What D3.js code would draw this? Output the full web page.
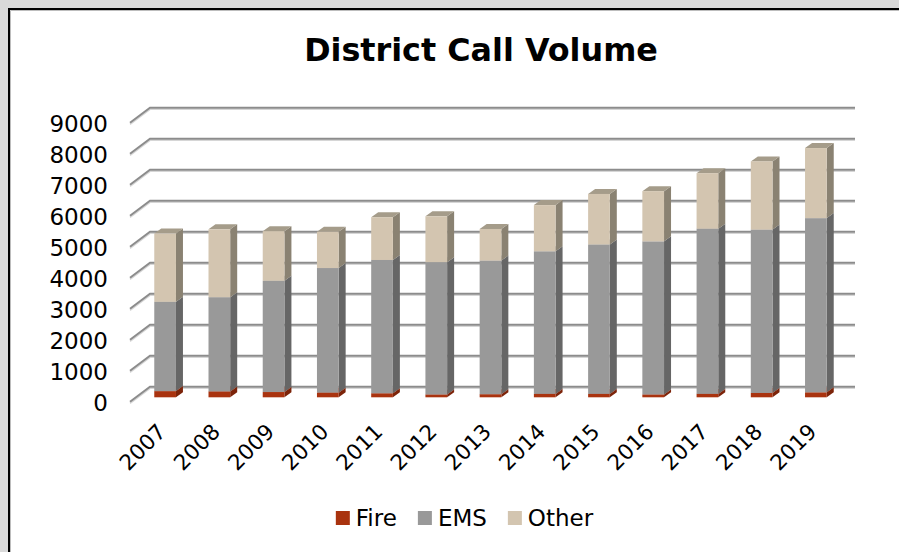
<!DOCTYPE html>
<html>
<head>
<meta charset="utf-8">
<script src="https://cdn.jsdelivr.net/npm/d3@7"></script>
<style>
  html, body { margin: 0; padding: 0; background: #d9d9d9; overflow: hidden; }
  svg { display: block; font-family: "DejaVu Sans", Verdana, sans-serif; }
</style>
</head>
<body>
<svg id="chart" width="899" height="552"></svg>
<script>
// Chart data
const years = ["2007", "2008", "2009", "2010", "2011", "2012", "2013", "2014", "2015", "2016", "2017", "2018", "2019"];
const fire = [200, 190, 170, 150, 130, 90, 100, 110, 110, 90, 110, 140, 160];
const ems = [2880, 3040, 3590, 4020, 4300, 4270, 4310, 4600, 4820, 4940, 5330, 5270, 5620];
const other = [2200, 2190, 1600, 1170, 1380, 1480, 1020, 1490, 1630, 1620, 1790, 2200, 2260];
const yTicks = [0, 1000, 2000, 3000, 4000, 5000, 6000, 7000, 8000, 9000];
const seriesNames = ["Fire", "EMS", "Other"];

const colors = {
  Fire:  { front: "#a9330f", side: "#7c240a", top: "#c2492a" },
  EMS:   { front: "#999999", side: "#666666", top: "#b0b0b0" },
  Other: { front: "#d3c5b0", side: "#8a8272", top: "#a59c8a" }
};

const svg = d3.select("#chart");

// Chart area frame (white box with dark top/left edge)
svg.append("rect").attr("x", 8).attr("y", 8).attr("width", 900).attr("height", 560).attr("fill", "#ffffff");
svg.append("path").attr("d", "M9,552 V9 H899").attr("fill", "none").attr("stroke", "#000").attr("stroke-width", 2);
svg.append("path").attr("d", "M10.5,552 V10.5 H899").attr("fill", "none").attr("stroke", "#bdbdbd").attr("stroke-width", 1);

// Title
svg.append("text")
  .attr("x", 481).attr("y", 60.5)
  .attr("text-anchor", "middle")
  .attr("font-size", 31.8).attr("font-weight", "bold")
  .attr("fill", "#000")
  .text("District Call Volume");

// 3D geometry: front plane scales, wall depth and bar depth
const depth = { dx: 20, dy: -15 };
const barShift = { dx: 6, dy: -4.4 };
const barDepth = { dx: 7, dy: -5 };

const x = d3.scaleBand()
  .domain(years)
  .range([132, 837])
  .paddingInner(0.6)
  .paddingOuter(0.3);

const y = d3.scaleLinear()
  .domain([0, 9000])
  .range([401.7, 122.7]);

const plotLeft = 130, plotRight = 835;

// Gridlines: diagonal on the side wall, then horizontal on the back wall
const grid = svg.append("g");
grid.selectAll("path.shadow")
  .data(yTicks)
  .enter().append("path")
  .attr("class", "shadow")
  .attr("d", d => `M${plotLeft},${y(d) + 1.6} L${plotLeft + depth.dx},${y(d) + depth.dy + 1.6} H${plotRight + depth.dx}`)
  .attr("fill", "none")
  .attr("stroke", "#d6d6d6")
  .attr("stroke-width", 1.5);
grid.selectAll("path.line")
  .data(yTicks)
  .enter().append("path")
  .attr("class", "line")
  .attr("d", d => `M${plotLeft},${y(d)} L${plotLeft + depth.dx},${y(d) + depth.dy} H${plotRight + depth.dx}`)
  .attr("fill", "none")
  .attr("stroke", "#8c8c8c")
  .attr("stroke-width", 2);

// Y axis labels
svg.append("g").selectAll("text")
  .data(yTicks)
  .enter().append("text")
  .attr("x", 108)
  .attr("y", d => y(d) + 9.6)
  .attr("text-anchor", "end")
  .attr("font-size", 23)
  .attr("fill", "#000")
  .text(d => d);

// Stack the series
const rows = years.map((yr, i) => ({ year: yr, Fire: fire[i], EMS: ems[i], Other: other[i] }));
const stacked = d3.stack().keys(seriesNames)(rows);

const bars = svg.append("g");
stacked.forEach(layer => {
  const c = colors[layer.key];
  const g = bars.append("g");
  const x0 = d => x(d.data.year) + barShift.dx;
  const yTop = d => y(d[1]) + barShift.dy;
  const yBot = d => y(d[0]) + barShift.dy;
  const w = x.bandwidth();

  // side face
  g.selectAll("path.side")
    .data(layer)
    .enter().append("path")
    .attr("class", "side")
    .attr("d", d => `M${x0(d) + w},${yTop(d)} l${barDepth.dx},${barDepth.dy} V${yBot(d) + barDepth.dy} L${x0(d) + w},${yBot(d)} Z`)
    .attr("fill", c.side);

  // top face
  g.selectAll("path.top")
    .data(layer)
    .enter().append("path")
    .attr("class", "top")
    .attr("d", d => `M${x0(d)},${yTop(d)} l${barDepth.dx},${barDepth.dy} h${w} l${-barDepth.dx},${-barDepth.dy} Z`)
    .attr("fill", c.top);

  // front face
  g.selectAll("rect")
    .data(layer)
    .enter().append("rect")
    .attr("x", x0)
    .attr("y", yTop)
    .attr("width", w)
    .attr("height", d => yBot(d) - yTop(d))
    .attr("fill", c.front);
});

// X axis labels, rotated
svg.append("g").selectAll("text")
  .data(years)
  .enter().append("text")
  .attr("transform", d => `translate(${x(d) + barShift.dx + x.bandwidth() / 2 + 2},433) rotate(-45)`)
  .attr("text-anchor", "end")
  .attr("font-size", 21.5)
  .attr("fill", "#000")
  .text(d => d);

// Legend
const legend = svg.append("g");
const items = legend.selectAll("g")
  .data(seriesNames)
  .enter().append("g");
items.append("rect")
  .attr("width", 14).attr("height", 14)
  .attr("y", 511)
  .attr("fill", d => colors[d].front);
items.append("text")
  .attr("y", 525.5)
  .attr("font-size", 23)
  .attr("fill", "#000")
  .text(d => d);

// lay out legend entries centred
let widths = [];
items.select("text").each(function() { widths.push(this.getComputedTextLength()); });
const total = d3.sum(widths) + seriesNames.length * 20 + (seriesNames.length - 1) * 21;
let cx = 464.5 - total / 2;
items.each(function(d, i) {
  const item = d3.select(this);
  item.select("rect").attr("x", cx);
  item.select("text").attr("x", cx + 20);
  cx += 20 + widths[i] + 21;
});
</script>
</body>
</html>
